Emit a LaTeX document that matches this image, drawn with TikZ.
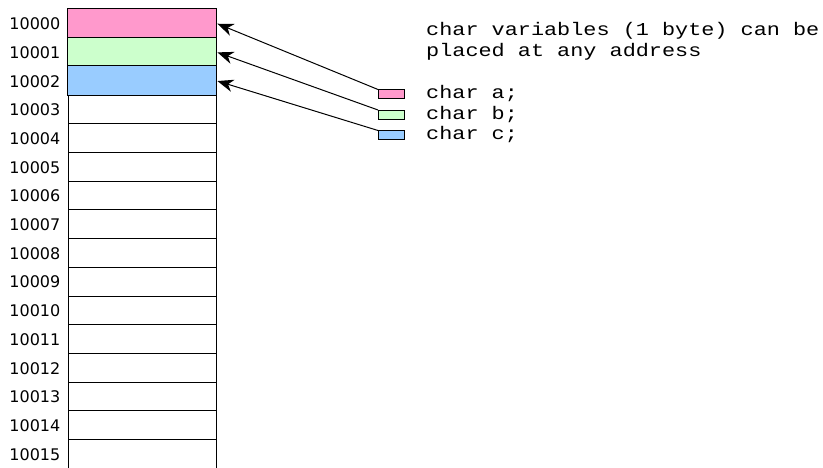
\documentclass[tikz,border=0pt]{standalone}
\usepackage{fontspec}
\setmainfont{DejaVu Sans}
\newfontfamily\codefont[FakeStretch=1.2]{Liberation Mono}
\usepackage{xcolor}
\usetikzlibrary{arrows.meta,positioning}

\definecolor{vara}{HTML}{FF99CC}
\definecolor{varb}{HTML}{CCFFCC}
\definecolor{varc}{HTML}{99CCFF}

\tikzset{
  cell/.style={draw, line width=1pt, minimum width=148pt, minimum height=28.7pt, inner sep=0pt},
  addr/.style={anchor=east, inner sep=0pt, font=\fontsize{16}{18}\selectfont},
  varbox/.style={draw, line width=1pt, minimum width=26pt, minimum height=9pt, inner sep=0pt, anchor=north west},
  code/.style={anchor=base west, inner sep=0pt, font=\codefont\fontsize{18.2}{20}\selectfont},
  ptr/.style={-{Stealth[length=16pt,width=12.5pt,inset=5pt]}, line width=1pt, shorten >=1pt}
}

\begin{document}
\begin{tikzpicture}[x=1pt, y=-1pt]
  \useasboundingbox (0,0) rectangle (823,468);

  % memory cells
  \foreach \i [evaluate=\i as \n using int(10000+\i)] in {0,...,15} {
    \node[cell] (c\i) at (142, 23.35+28.7*\i) {};
    \node[addr] (a\i) at (60.5, 23.8+28.7*\i) {\n};
  }
  \fill[vara, draw=black, line width=1pt] (c0.south west) rectangle (c0.north east);
  \fill[varb, draw=black, line width=1pt] (c1.south west) rectangle (c1.north east);
  \fill[varc, draw=black, line width=1pt] (c2.south west) rectangle (c2.north east);

  % variables
  \node[varbox, fill=vara] (va) at (378, 89.5)  {};
  \node[varbox, fill=varb] (vb) at (378, 110)   {};
  \node[varbox, fill=varc] (vc) at (378, 130.5) {};

  \node[code] (la) at (426, 99)    {char a;};
  \node[code] (lb) at (426, 119.5) {char b;};
  \node[code] (lc) at (426, 140)   {char c;};

  \node[code] (t1) at (426, 36)   {char variables (1 byte) can be};
  \node[code] (t2) at (426, 56.5) {placed at any address};

  \path (va.north west) edge[ptr] (c0.east)
        (vb.north west) edge[ptr] (c1.east)
        (vc.north west) edge[ptr] (c2.east)
        ;
\end{tikzpicture}
\end{document}
